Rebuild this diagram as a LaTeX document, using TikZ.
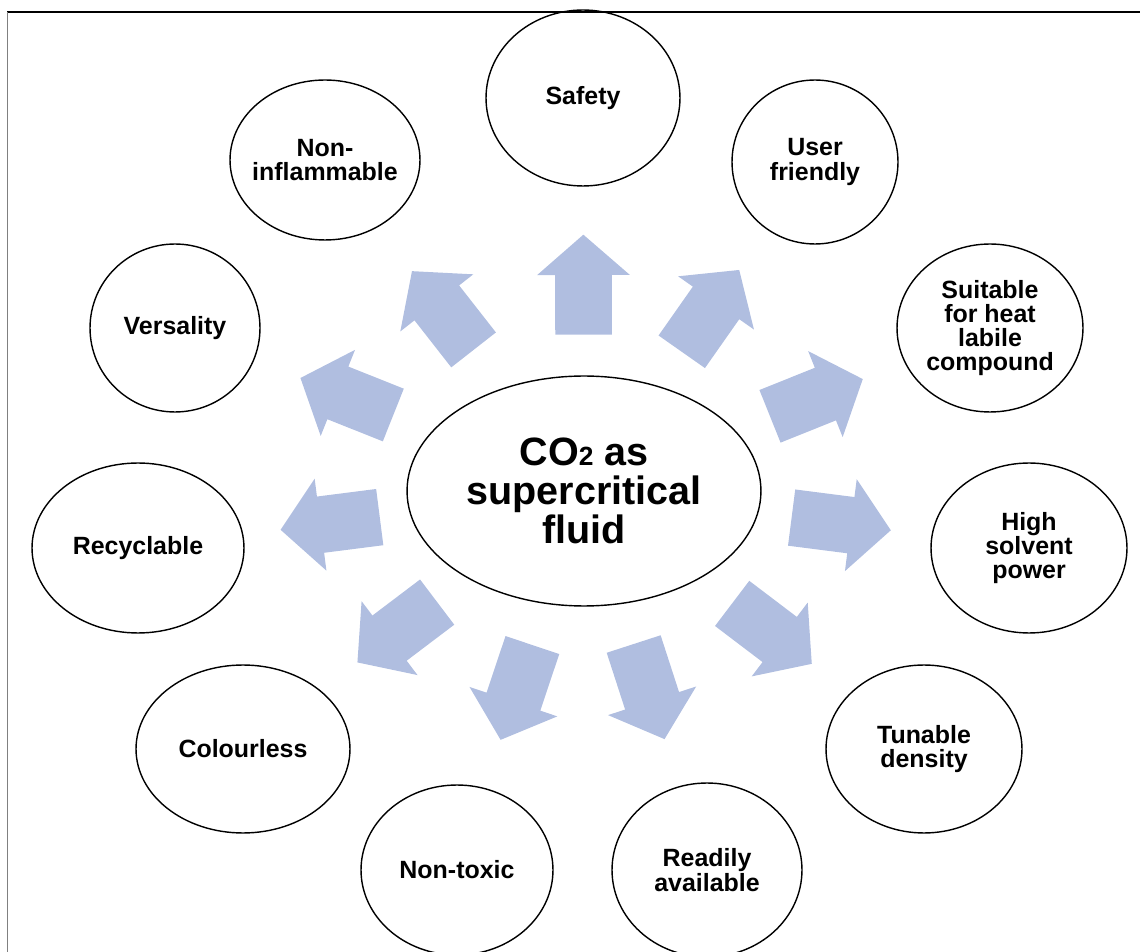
\documentclass[tikz,border=0pt]{standalone}
\usepackage{fontspec}
\setmainfont{Liberation Sans}
\usetikzlibrary{shapes.geometric,shapes.arrows}
\definecolor{arrowblue}{RGB}{176,190,224}
\tikzset{
  prop/.style={ellipse, draw, line width=0.8pt, inner sep=-4pt, align=center,
    font=\fontsize{14.2}{13.8}\selectfont\bfseries},
  blockarrow/.style={single arrow, fill=arrowblue, draw=none,
    inner xsep=0pt, inner ysep=0.56cm, minimum height=2cm,
    single arrow head extend=0.36cm, single arrow tip angle=98,
    sloped, allow upside down, midway, xshift=-0.32cm}
}
\begin{document}
\begin{tikzpicture}[x=0.02cm, y=-0.02cm]
    \useasboundingbox (0,0) rectangle (1140,952);

    % frame
    \draw[line width=1.2pt] (7,12) -- (1140,12);
    \draw[gray, line width=0.6pt] (7.5,12) -- (7.5,952);

    % centre
    \node[prop, minimum width=7.08cm, minimum height=4.6cm,
          font=\fontsize{22.5}{22}\selectfont\bfseries] (co2) at (584,491)
        {CO{\fontsize{15}{15}\selectfont 2} as\\supercritical\\fluid};

    % properties
    \node[prop, minimum width=3.88cm, minimum height=3.52cm] (safety) at (583,98) {Safety};
    \node[prop, minimum width=3.32cm, minimum height=3.28cm] (friendly) at (815,162) {User\\friendly};
    \node[prop, minimum width=3.72cm, minimum height=3.36cm] (labile) at (990,328) {Suitable\\for heat\\labile\\compound};
    \node[prop, minimum width=3.92cm, minimum height=3.40cm] (solvent) at (1029,548) {High\\solvent\\power};
    \node[prop, minimum width=3.92cm, minimum height=3.36cm] (density) at (924,749) {Tunable\\density};
    \node[prop, minimum width=3.80cm, minimum height=3.48cm] (available) at (707,870) {Readily\\available};
    \node[prop, minimum width=3.84cm, minimum height=3.40cm] (nontoxic) at (457,870) {Non-toxic};
    \node[prop, minimum width=4.28cm, minimum height=3.36cm] (colourless) at (243,749) {Colourless};
    \node[prop, minimum width=4.24cm, minimum height=3.40cm] (recyclable) at (138,548) {Recyclable};
    \node[prop, minimum width=3.40cm, minimum height=3.36cm] (versality) at (175,328) {Versality};
    \node[prop, minimum width=3.80cm, minimum height=3.20cm] (inflammable) at (325,160) {Non-\\inflammable};

    % arrows
    \foreach \p in {safety, friendly, labile, solvent, density, available,
                    nontoxic, colourless, recyclable, versality, inflammable}
        \path (co2) -- node[blockarrow] (arr-\p) {} (\p);
\end{tikzpicture}
\end{document}
